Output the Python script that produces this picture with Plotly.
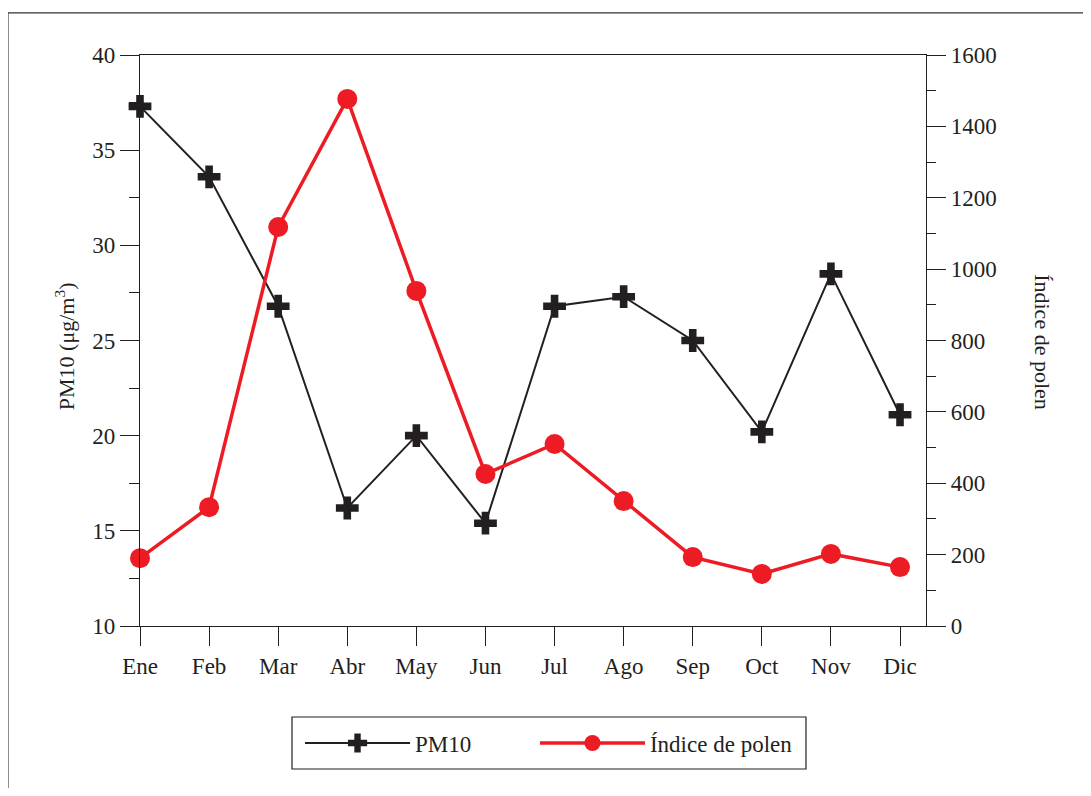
import plotly.graph_objects as go

months = ["Ene", "Feb", "Mar", "Abr", "May", "Jun", "Jul", "Ago", "Sep", "Oct", "Nov", "Dic"]
pm10 = [37.3, 33.6, 26.8, 16.2, 20.0, 15.4, 26.8, 27.3, 25.0, 20.2, 28.5, 21.1]
polen = [190, 333, 1118, 1477, 939, 426, 510, 350, 193, 146, 202, 165]

BLACK = "#231F20"
RED = "#ED1C24"
FONT = "Liberation Serif"

fig = go.Figure()
fig.add_trace(go.Scatter(
    x=months, y=pm10, name="PM10", mode="lines+markers",
    line=dict(color=BLACK, width=2),
    marker=dict(symbol="cross", size=19, color=BLACK),
    cliponaxis=False, yaxis="y", legend="legend",
))
fig.add_trace(go.Scatter(
    x=months, y=polen, name="Índice de polen", mode="lines+markers",
    line=dict(color=RED, width=3.5),
    marker=dict(symbol="circle", size=20, color=RED),
    cliponaxis=False, yaxis="y2", legend="legend2",
))

axis_common = dict(
    showgrid=False, zeroline=False, showline=True, linecolor=BLACK, linewidth=1.2,
    ticks="outside", tickcolor=BLACK, tickwidth=1.2,
    tickfont=dict(family=FONT, size=23, color=BLACK),
)

legend_common = dict(
    orientation="h", xanchor="left", y=-0.205, yanchor="middle",
    borderwidth=0, bgcolor="rgba(0,0,0,0)",
    font=dict(family=FONT, size=23, color=BLACK),
    itemwidth=105,
)

fig.update_layout(
    width=1075, height=780,
    margin=dict(l=132, r=157, t=47, b=162),
    paper_bgcolor="white", plot_bgcolor="white",
    font=dict(family=FONT, size=23, color=BLACK),
    showlegend=True,
    legend=dict(**legend_common, x=0.2036),
    legend2=dict(**legend_common, x=0.5025),
    xaxis=dict(
        **axis_common, type="category", range=[0, 11.376], mirror=True,
        ticklen=19,
    ),
    yaxis=dict(
        **axis_common, range=[10, 40], tickvals=[10, 15, 20, 25, 30, 35, 40],
        ticklen=19,
        minor=dict(dtick=2.5, tick0=10, ticklen=10, ticks="outside", tickcolor=BLACK, tickwidth=1.2),
    ),
    yaxis2=dict(
        **axis_common, range=[0, 1600], tickvals=[0, 200, 400, 600, 800, 1000, 1200, 1400, 1600],
        overlaying="y", side="right", ticklen=19,
        minor=dict(dtick=100, tick0=0, ticklen=9, ticks="outside", tickcolor=BLACK, tickwidth=1.2),
    ),
    annotations=[
        dict(text="PM10 (μg/m<sup>3</sup>)", xref="paper", yref="paper", x=-0.0954, y=0.49,
             xanchor="center", yanchor="middle", textangle=-90, showarrow=False,
             font=dict(family=FONT, size=22, color=BLACK)),
        dict(text="Índice de polen", xref="paper", yref="paper", x=1.1489, y=0.497,
             xanchor="center", yanchor="middle", textangle=90, showarrow=False,
             font=dict(family=FONT, size=22, color=BLACK)),
    ],
    shapes=[
        dict(type="rect", xref="paper", yref="paper", x0=-0.168, x1=1.25, y0=-0.35, y1=1.0736,
             line=dict(color="#333333", width=1.2), fillcolor="rgba(0,0,0,0)", layer="below"),
        dict(type="rect", xref="paper", yref="paper", x0=0.1934, x1=0.8473, y0=-0.2504, y1=-0.1594,
             line=dict(color=BLACK, width=1.2), fillcolor="rgba(0,0,0,0)", layer="below"),
    ],
)

fig.write_html("out.html")
